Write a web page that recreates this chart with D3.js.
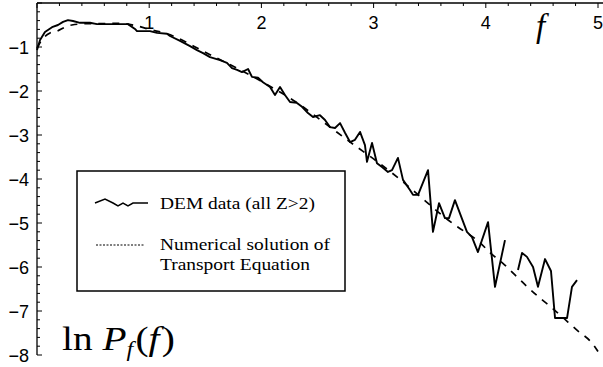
<!DOCTYPE html>
<html><head><meta charset="utf-8">
<script src="https://cdn.jsdelivr.net/npm/d3@7/dist/d3.min.js"></script>
<style>body{margin:0;background:#fff}svg{display:block}</style>
</head><body>
<svg id="c" width="603" height="367"></svg>
<script>
// DEM data (all Z>2): f and ln P_f(f); null marks a gap in the data
const demF = [0,0.027,0.071,0.134,0.187,0.232,0.276,0.321,0.383,0.472,0.535,0.651,0.811,0.873,0.891,1.007,1.070,1.159,1.185,1.275,1.364,1.426,1.480,1.542,1.631,1.693,1.738,1.783,1.827,1.881,1.916,1.970,2.014,2.077,2.121,2.166,2.210,2.255,2.317,2.362,2.415,2.460,2.522,2.567,2.611,2.656,2.701,2.745,2.790,2.834,2.879,2.923,2.941,2.986,3.030,3.075,3.128,3.164,3.217,3.262,3.324,3.351,3.396,3.485,3.529,3.583,3.636,3.672,3.725,3.832,3.877,3.930,4.020,4.082,4.171,4.23,4.287,4.323,4.367,4.421,4.465,4.528,4.581,4.617,4.724,4.768,4.813];
const demLnP = [-1.07,-0.84,-0.66,-0.55,-0.50,-0.43,-0.39,-0.41,-0.45,-0.45,-0.48,-0.48,-0.48,-0.59,-0.64,-0.64,-0.68,-0.70,-0.75,-0.86,-0.98,-1.07,-1.14,-1.23,-1.30,-1.36,-1.48,-1.52,-1.57,-1.50,-1.68,-1.70,-1.80,-1.91,-2.09,-1.91,-2.09,-2.25,-2.27,-2.36,-2.50,-2.59,-2.55,-2.66,-2.82,-2.84,-2.73,-2.95,-3.16,-3.11,-2.93,-3.23,-3.61,-3.18,-3.64,-3.73,-3.84,-3.80,-3.52,-4.02,-4.25,-4.36,-4.36,-3.80,-5.20,-4.55,-4.89,-4.89,-4.48,-5.20,-5.32,-5.66,-4.98,-6.45,-5.39,null,-6.07,-5.68,-5.77,-6.00,-6.45,-5.82,-6.09,-7.16,-7.16,-6.45,-6.30];
// Numerical solution of Transport Equation
const numF = [0,0.04,0.116,0.178,0.25,0.31,0.45,0.58,0.72,0.89,1.0,1.16,1.5,2.0,2.32,2.585,2.85,3.03,3.24,3.37,3.70,3.75,3.95,4.04,4.15,4.26,4.37,4.48,4.59,4.81,4.96,5.0];
const numLnP = [-1.02,-0.85,-0.68,-0.64,-0.55,-0.50,-0.47,-0.47,-0.46,-0.52,-0.60,-0.70,-1.12,-1.78,-2.27,-2.77,-3.27,-3.60,-4.02,-4.30,-5.00,-5.09,-5.45,-5.68,-5.91,-6.18,-6.45,-6.70,-6.93,-7.43,-7.77,-7.92];
const xTicks = [1,2,3,4,5];
const yTicks = [-1,-2,-3,-4,-5,-6,-7,-8];
const legendLabels = ["DEM data (all Z>2)", "Numerical solution of", "Transport Equation"];
const legendWiggle = [[0,0],[10,-4],[18,0],[23,3],[28,0],[33,3],[38,0],[45,0],[53,0]];

const svg = d3.select("#c");
const x = d3.scaleLinear().domain([0,5]).range([37,598]);
const y = d3.scaleLinear().domain([0,-8]).range([3,355]);

// axes
const ax = svg.append("g").attr("stroke","#000").attr("fill","none");
ax.append("line").attr("x1",x(0)).attr("x2",603).attr("y1",y(0)).attr("y2",y(0)).attr("stroke-width",1.3);
ax.append("line").attr("x1",x(0)).attr("x2",x(0)).attr("y1",y(0)).attr("y2",y(-8)).attr("stroke-width",1.3);
const xMinor = d3.range(0,5.01,0.2);
xMinor.forEach(v=>{
  const maj = Math.abs(v-Math.round(v))<1e-6;
  ax.append("line").attr("x1",x(v)).attr("x2",x(v)).attr("y1",y(0)).attr("y2",y(0)+(maj?5:3)).attr("stroke-width",1);
});
const yMinor = d3.range(0,-8.01,-0.2);
yMinor.forEach(v=>{
  const maj = Math.abs(v-Math.round(v))<1e-6;
  ax.append("line").attr("x1",x(0)).attr("x2",x(0)+(maj?5:3)).attr("y1",y(v)).attr("y2",y(v)).attr("stroke-width",1);
});

const tickFont = "'Liberation Sans', Arial, sans-serif";
svg.append("g").selectAll("text").data(xTicks).join("text")
  .attr("x",d=>x(d)).attr("y",29).attr("text-anchor","middle")
  .attr("font-family",tickFont).attr("font-size",18).text(d=>d);
svg.append("g").selectAll("text").data(yTicks).join("text")
  .attr("x",29).attr("y",d=>y(d)+6.5).attr("text-anchor","end")
  .attr("font-family",tickFont).attr("font-size",18).text(d=>"\u2212"+Math.abs(d));

// data lines
const demData = demF.map((f,i)=>({f, v:demLnP[i]}));
const numData = numF.map((f,i)=>({f, v:numLnP[i]}));
svg.append("path").datum(numData)
  .attr("d", d3.line().x(d=>x(d.f)).y(d=>y(d.v)).curve(d3.curveMonotoneX))
  .attr("fill","none").attr("stroke","#000").attr("stroke-width",1.7).attr("stroke-dasharray","7,7");
svg.append("path").datum(demData)
  .attr("d", d3.line().defined(d=>d.v!==null).x(d=>x(d.f)).y(d=>y(d.v)))
  .attr("fill","none").attr("stroke","#000").attr("stroke-width",1.9).attr("stroke-linejoin","round");

// legend
const lg = svg.append("g");
lg.append("rect").attr("x",77).attr("y",171).attr("width",268).attr("height",120)
  .attr("fill","#fff").attr("stroke","#000").attr("stroke-width",1.5);
lg.append("path").datum(legendWiggle)
  .attr("d", d3.line().x(d=>95+d[0]).y(d=>203+d[1]))
  .attr("fill","none").attr("stroke","#000").attr("stroke-width",1.5);
lg.append("line").attr("x1",96).attr("x2",144).attr("y1",245).attr("y2",245)
  .attr("stroke","#000").attr("stroke-width",1).attr("stroke-dasharray","2,1.5");
const serif = "'Liberation Serif','Times New Roman',serif";
const lpos = [[209,155],[250,170],[270,150]];
legendLabels.forEach((t,i)=>{
  lg.append("text").attr("x",160).attr("y",lpos[i][0]).attr("font-family",serif)
    .attr("font-size",17).attr("textLength",lpos[i][1]).attr("lengthAdjust","spacingAndGlyphs").text(t);
});

// axis labels
svg.append("text").attr("x",536).attr("y",37).attr("font-family",serif).attr("font-style","italic")
  .attr("font-size",33).text("f");
const ylg = svg.append("g");
const yl = ylg.append("text").attr("x",0).attr("y",0).attr("font-family",serif).attr("font-size",34);
yl.append("tspan").text("ln ");
yl.append("tspan").attr("font-style","italic").text("P");
yl.append("tspan").attr("font-style","italic").attr("font-size",21).attr("dy",6).text("f");
yl.append("tspan").attr("dy",-6).attr("dx",2).text("(");
yl.append("tspan").attr("font-style","italic").text("f");
yl.append("tspan").attr("dx",2).text(")");
const bb = yl.node().getBBox();
const sx = bb.width > 0 ? 113 / bb.width : 1;
ylg.attr("transform", `translate(${62 - bb.x*sx},350) scale(${sx},1)`);
</script>
</body></html>
